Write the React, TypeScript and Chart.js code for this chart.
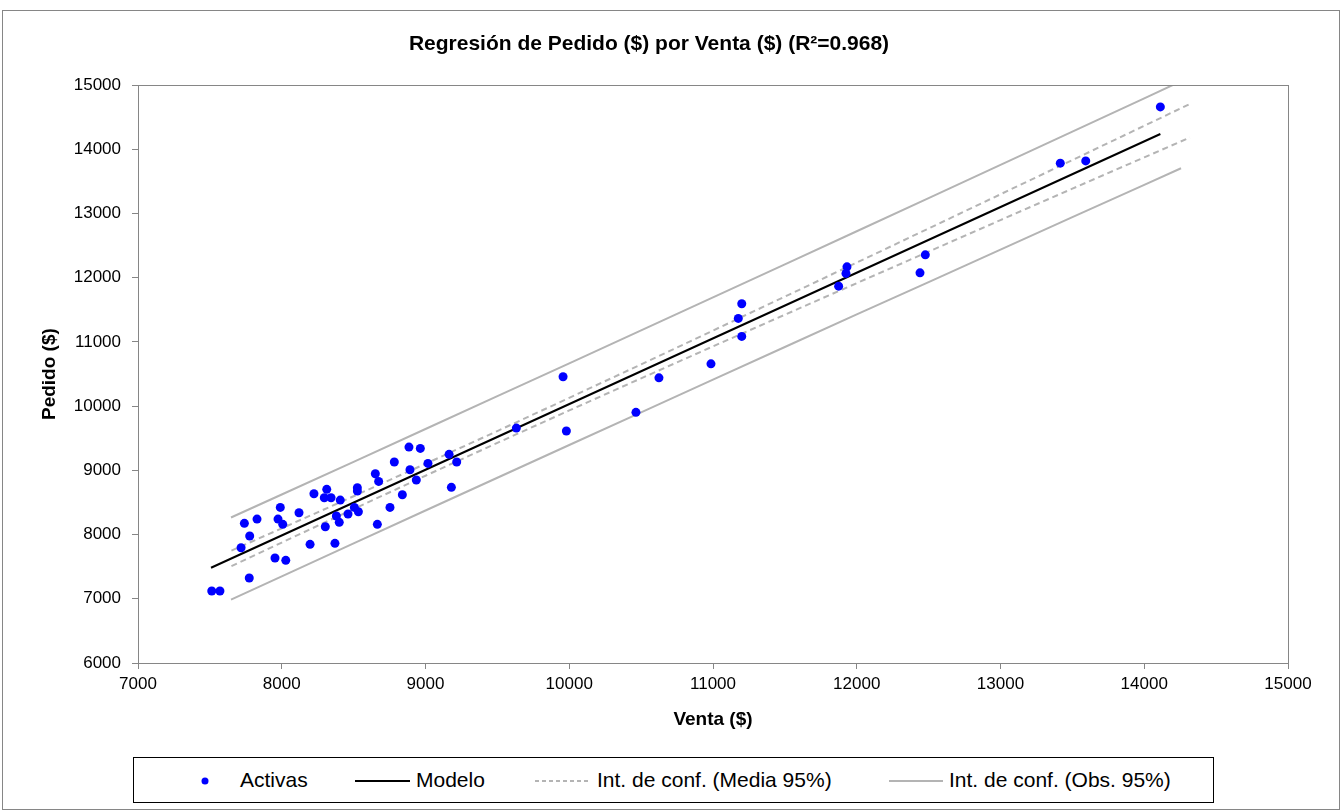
import React, { useEffect, useRef } from "react";
import { Chart, registerables } from "chart.js";

Chart.register(...registerables);

// Observed points (Venta, Pedido)
const ventaX = [
  7513, 7570, 7774, 7717, 7740, 7777, 7828, 7953, 8028, 7974, 7990, 8007, 8120, 8197, 8224,
  8303, 8296, 8313, 8343, 8370, 8380, 8400, 8407, 8461, 8505, 8533, 8526, 8526, 8665, 8651,
  8674, 8753, 8783, 8839, 8885, 8964, 8892, 8936, 9017, 9164, 9217, 9180, 9632, 9957, 9980,
  10464, 10624, 10986, 11200, 11176, 11200, 11874, 11925, 11932, 12440, 12477, 13416, 13593, 14112,
];
const pedidoY = [
  7121, 7121, 7324, 7795, 8175, 7978, 8242, 7635, 7599, 8242, 8424, 8160, 8340, 7848, 8636,
  8122, 8574, 8705, 8574, 7864, 8289, 8191, 8538, 8320, 8424, 8356, 8730, 8678, 8160, 8948,
  8829, 8424, 9130, 8621, 9363, 9343, 9010, 8850, 9109, 9250, 9130, 8736, 9659, 10458, 9613,
  9904, 10442, 10660, 11595, 11367, 11087, 11870, 12068, 12171, 12077, 12358, 13786, 13821, 14662,
];

// Regression line
const modelX = [7508, 14112];
const modelY = [7484, 14240];

// Confidence interval of the mean (95%)
const mediaX = [7650, 8000, 8500, 9000, 9500, 10000, 10500, 11000, 11500, 12000, 12500, 13000, 13500, 14000, 14318];
const mediaUpper = [7751, 8098, 8597, 9103, 9613, 10130, 10652, 11178, 11707, 12237, 12768, 13301, 13834, 14368, 14708];
const mediaLower = [7508, 7876, 8399, 8917, 9429, 9934, 10434, 10932, 11425, 11917, 12408, 12899, 13388, 13876, 14186];

// Confidence interval of observations (95%)
const obsX = [7647, 8000, 8500, 9000, 9500, 10000, 10500, 11000, 11500, 12000, 12500, 13000, 13500, 14000, 14256];
const obsUpper = [8266, 8625, 9134, 9645, 10156, 10668, 11181, 11695, 12210, 12725, 13242, 13760, 14278, 14796, 15062];
const obsLower = [6986, 7349, 7862, 8375, 8886, 9396, 9905, 10415, 10922, 11429, 11934, 12440, 12944, 13448, 13706];

const xMin = 7000;
const xMax = 15000;
const yMin = 6000;
const yMax = 15000;
const tickStep = 1000;

const TITLE = "Regresión de Pedido ($) por Venta ($) (R²=0.968)";
const X_TITLE = "Venta ($)";
const Y_TITLE = "Pedido ($)";
const legendLabels = ["Activas", "Modelo", "Int. de conf. (Media 95%)", "Int. de conf. (Obs. 95%)"];

const FONT = "'Liberation Sans', Arial, sans-serif";
const GRAY_AXIS = "#868686";
const CI_GRAY = "#B4B4B4";
const BLUE = "#0000FF";

const zip = (xs: number[], ys: number[]) => xs.map((x, i) => ({ x, y: ys[i] }));

const framePlugin = {
  id: "frame",
  beforeDraw(chart: any) {
    const ctx = chart.ctx;
    ctx.save();
    ctx.fillStyle = "#ffffff";
    ctx.fillRect(0, 0, chart.width, chart.height);
    ctx.strokeStyle = GRAY_AXIS;
    ctx.lineWidth = 1;
    ctx.strokeRect(2.5, 10.5, 1337, 799);
    ctx.restore();
  },
  afterDatasetsDraw(chart: any) {
    const { ctx, chartArea } = chart;
    ctx.save();
    ctx.strokeStyle = GRAY_AXIS;
    ctx.lineWidth = 1;
    ctx.strokeRect(
      Math.round(chartArea.left) + 0.5,
      Math.round(chartArea.top) + 0.5,
      Math.round(chartArea.right - chartArea.left),
      Math.round(chartArea.bottom - chartArea.top)
    );
    ctx.restore();
  },
};

export default function App() {
  const canvasRef = useRef<HTMLCanvasElement | null>(null);

  useEffect(() => {
    if (!canvasRef.current) return;
    const lineBase = { showLine: true, pointRadius: 0, pointHoverRadius: 0, fill: false, tension: 0 };
    const chart = new Chart(canvasRef.current, {
      type: "scatter",
      data: {
        datasets: [
          {
            label: legendLabels[0],
            data: zip(ventaX, pedidoY),
            showLine: false,
            pointRadius: 4.5,
            pointBorderWidth: 0,
            backgroundColor: BLUE,
            borderColor: BLUE,
          },
          { ...lineBase, label: legendLabels[1], data: zip(modelX, modelY), borderColor: "#000000", borderWidth: 2 },
          { ...lineBase, label: legendLabels[2], data: zip(mediaX, mediaUpper), borderColor: CI_GRAY, borderWidth: 2, borderDash: [6, 4] },
          { ...lineBase, label: legendLabels[2] + " inf", data: zip(mediaX, mediaLower), borderColor: CI_GRAY, borderWidth: 2, borderDash: [6, 4] },
          { ...lineBase, label: legendLabels[3], data: zip(obsX, obsUpper), borderColor: CI_GRAY, borderWidth: 2 },
          { ...lineBase, label: legendLabels[3] + " inf", data: zip(obsX, obsLower), borderColor: CI_GRAY, borderWidth: 2 },
        ] as any,
      },
      options: {
        animation: false,
        responsive: false,
        devicePixelRatio: 1,
        layout: { padding: { left: 10, right: 54, top: 0, bottom: 74 } },
        plugins: {
          legend: { display: false },
          tooltip: { enabled: false },
          title: {
            display: true,
            text: TITLE,
            color: "#000000",
            font: { family: FONT, size: 21, weight: "bold" },
            padding: { top: 32, bottom: 28 },
          },
        },
        scales: {
          x: {
            type: "linear",
            min: xMin,
            max: xMax,
            afterFit: (s: any) => {
              s.height = 75;
            },
            ticks: {
              stepSize: tickStep,
              color: "#000000",
              font: { family: FONT, size: 17 },
              padding: 5,
              maxRotation: 0,
              callback: (v: any) => String(v),
            },
            grid: { drawOnChartArea: false, drawTicks: true, tickLength: 6, color: GRAY_AXIS },
            border: { display: true, color: GRAY_AXIS },
            title: {
              display: true,
              text: X_TITLE,
              color: "#000000",
              font: { family: FONT, size: 19, weight: "bold" },
              padding: { top: 0, bottom: 7 },
            },
          },
          y: {
            type: "linear",
            min: yMin,
            max: yMax,
            afterFit: (s: any) => {
              s.width = 128;
            },
            ticks: {
              stepSize: tickStep,
              color: "#000000",
              font: { family: FONT, size: 17 },
              padding: 11,
              callback: (v: any) => String(v),
            },
            grid: { drawOnChartArea: false, drawTicks: true, tickLength: 6, color: GRAY_AXIS },
            border: { display: true, color: GRAY_AXIS },
            title: {
              display: true,
              text: Y_TITLE,
              color: "#000000",
              font: { family: FONT, size: 19, weight: "bold" },
              padding: { top: 28, bottom: 0 },
            },
          },
        },
      } as any,
      plugins: [framePlugin],
    });
    return () => chart.destroy();
  }, []);

  const textStyle: React.CSSProperties = {
    position: "absolute",
    top: 0,
    height: 44,
    lineHeight: "44px",
    fontFamily: FONT,
    fontSize: 21,
    color: "#000",
    whiteSpace: "nowrap",
  };

  return (
    <div style={{ position: "absolute", left: 0, top: 0, width: 1342, height: 812, background: "#fff" }}>
      <canvas ref={canvasRef} width={1342} height={812} style={{ display: "block" }} />
      <div
        style={{
          position: "absolute",
          left: 133,
          top: 757,
          width: 1081,
          height: 46,
          border: "1px solid #000",
          boxSizing: "border-box",
          background: "#fff",
        }}
      >
        <svg width={1081} height={44} style={{ position: "absolute", left: 0, top: 0 }}>
          <circle cx={71} cy={23} r={3.5} fill={BLUE} />
          <line x1={221} y1={23} x2={276} y2={23} stroke="#000" strokeWidth={2} />
          <line x1={401} y1={23} x2={456} y2={23} stroke={CI_GRAY} strokeWidth={2} strokeDasharray="4,3" />
          <line x1={755} y1={23} x2={809} y2={23} stroke={CI_GRAY} strokeWidth={2} />
        </svg>
        <span style={{ ...textStyle, left: 106 }}>{legendLabels[0]}</span>
        <span style={{ ...textStyle, left: 282 }}>{legendLabels[1]}</span>
        <span style={{ ...textStyle, left: 463 }}>{legendLabels[2]}</span>
        <span style={{ ...textStyle, left: 815 }}>{legendLabels[3]}</span>
      </div>
    </div>
  );
}
